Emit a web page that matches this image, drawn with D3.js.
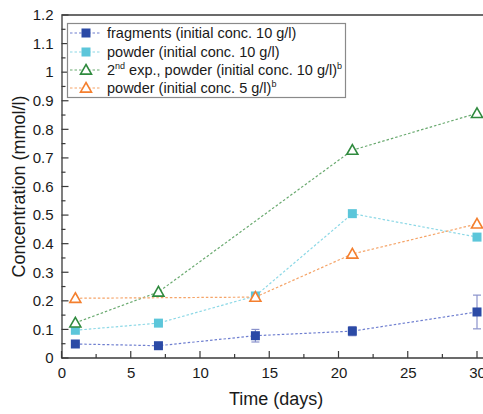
<!DOCTYPE html>
<html>
<head>
<meta charset="utf-8">
<script src="https://cdn.jsdelivr.net/npm/d3@7"></script>
<style>
  html, body { margin: 0; padding: 0; background: #fff; }
  svg { display: block; font-family: "Liberation Sans", Arial, sans-serif; }
</style>
</head>
<body>
<svg id="chart" width="483" height="414"></svg>
<script>
// Measurement days per series
const daysFragments = [1, 7, 14, 21, 30];
const daysPowder = [1, 7, 14, 21, 30];
const days2nd = [1, 7, 21, 30];
const daysPowder5 = [1, 14, 21, 30];

// Concentrations (mmol/l)
const fragments = [0.049, 0.043, 0.078, 0.094, 0.161];
const fragmentsErr = [0.004, 0.004, 0.022, 0.016, 0.059];
const powder = [0.097, 0.122, 0.217, 0.505, 0.423];
const powder2nd = [0.123, 0.231, 0.727, 0.856];
const powder5 = [0.209, 0.213, 0.364, 0.469];

// Axis ticks
const xTicks = [0, 5, 10, 15, 20, 25, 30];
const yTicks = [0, 0.1, 0.2, 0.3, 0.4, 0.5, 0.6, 0.7, 0.8, 0.9, 1, 1.1, 1.2];

const series = [
  { name: "fragments", days: daysFragments, values: fragments, err: fragmentsErr,
    marker: "square", fill: "#2b4aa6", line: "#6f7fd0" },
  { name: "powder", days: daysPowder, values: powder, err: null,
    marker: "square", fill: "#5cc6da", line: "#8cd8e6" },
  { name: "2nd", days: days2nd, values: powder2nd, err: null,
    marker: "triangle", fill: "#2f8a3e", line: "#6aaa70" },
  { name: "powder5", days: daysPowder5, values: powder5, err: null,
    marker: "triangle", fill: "#f47f2e", line: "#f5a468" }
];

const svg = d3.select("#chart");
const plotLeft = 61.5, plotRight = 477, plotTop = 15, plotBottom = 358;

const x = d3.scaleLinear().domain([0, 30]).range([plotLeft, plotRight]);
const y = d3.scaleLinear().domain([0, 1.2]).range([plotBottom, plotTop]);

const frameColor = "#3a3a3a";

// Frame: top edge continues past the right edge of the view
svg.append("line").attr("x1", plotLeft).attr("x2", 520).attr("y1", plotTop).attr("y2", plotTop)
  .attr("stroke", frameColor).attr("stroke-width", 1.3);

// Y axis
const yAxis = d3.axisLeft(y).tickValues(yTicks).tickSize(0).tickPadding(8)
  .tickFormat(d => d3.format("~g")(d));
const gy = svg.append("g").attr("transform", `translate(${plotLeft},0)`).call(yAxis);
gy.select(".domain").attr("stroke", frameColor).attr("stroke-width", 1.3);
gy.selectAll("text").attr("font-size", 15).attr("fill", "#1a1a1a");
// inward ticks: majors every 0.1, minors at 0.05
const yMinor = d3.range(0.05, 1.2, 0.1);
svg.append("g").selectAll("line").data(yTicks).join("line")
  .attr("x1", plotLeft).attr("x2", plotLeft + 7).attr("y1", d => y(d)).attr("y2", d => y(d))
  .attr("stroke", frameColor).attr("stroke-width", 1.2);
svg.append("g").selectAll("line").data(yMinor).join("line")
  .attr("x1", plotLeft).attr("x2", plotLeft + 4).attr("y1", d => y(d)).attr("y2", d => y(d))
  .attr("stroke", frameColor).attr("stroke-width", 1.2);

// X axis
const xAxis = d3.axisBottom(x).tickValues(xTicks).tickSize(0).tickPadding(9);
const gx = svg.append("g").attr("transform", `translate(0,${plotBottom})`).call(xAxis);
gx.select(".domain").remove();
svg.append("line").attr("x1", plotLeft).attr("x2", 520).attr("y1", plotBottom).attr("y2", plotBottom)
  .attr("stroke", frameColor).attr("stroke-width", 1.3);
gx.selectAll("text").attr("font-size", 15).attr("fill", "#1a1a1a");
const xMinor = d3.range(2.5, 30, 5);
svg.append("g").selectAll("line").data(xTicks).join("line")
  .attr("x1", d => x(d)).attr("x2", d => x(d)).attr("y1", plotBottom).attr("y2", plotBottom - 7)
  .attr("stroke", frameColor).attr("stroke-width", 1.2);
svg.append("g").selectAll("line").data(xMinor).join("line")
  .attr("x1", d => x(d)).attr("x2", d => x(d)).attr("y1", plotBottom).attr("y2", plotBottom - 4)
  .attr("stroke", frameColor).attr("stroke-width", 1.2);

// Axis titles (the frame runs on past day 30, so the x title sits right of x(15))
svg.append("text").attr("x", x(15.5)).attr("y", 405).attr("text-anchor", "middle")
  .attr("font-size", 18).attr("fill", "#1a1a1a").text("Time (days)");
svg.append("text").attr("transform", `translate(25,${(plotTop + plotBottom) / 2}) rotate(-90)`)
  .attr("text-anchor", "middle").attr("font-size", 18).attr("fill", "#1a1a1a")
  .text("Concentration (mmol/l)");

// Marker drawing helper
function drawMarker(g, type, cx, cy, s) {
  if (type === "square") {
    g.append("rect").attr("x", cx - 4.5).attr("y", cy - 4.5).attr("width", 9).attr("height", 9)
      .attr("fill", s.fill);
  } else {
    const h = 5.5;
    g.append("path")
      .attr("d", `M${cx},${cy - h} L${cx + h},${cy + h * 0.75} L${cx - h},${cy + h * 0.75} Z`)
      .attr("fill", "#fff").attr("stroke", s.fill).attr("stroke-width", 1.6);
  }
}

const line = d3.line();

// Connecting lines
series.forEach(s => {
  const pts = s.days.map((d, i) => [x(d), y(s.values[i])]);
  svg.append("path").attr("d", line(pts)).attr("fill", "none")
    .attr("stroke", s.line).attr("stroke-width", 1.2).attr("stroke-dasharray", "2.5,2");
});

// Error bars
series.filter(s => s.err).forEach(s => {
  const g = svg.append("g").attr("stroke", "#8a92cc").attr("stroke-width", 1.2);
  s.days.forEach((d, i) => {
    const cx = x(d), e = s.err[i], v = s.values[i];
    g.append("line").attr("x1", cx).attr("x2", cx).attr("y1", y(v - e)).attr("y2", y(v + e));
    [v - e, v + e].forEach(t => g.append("line")
      .attr("x1", cx - 4).attr("x2", cx + 4).attr("y1", y(t)).attr("y2", y(t)));
  });
});

// Markers
series.forEach(s => {
  const g = svg.append("g");
  s.days.forEach((d, i) => drawMarker(g, s.marker, x(d), y(s.values[i]), s));
});

// Legend
const legend = svg.append("g");
legend.append("rect").attr("x", 67.5).attr("y", 23.5).attr("width", 278).attr("height", 74)
  .attr("fill", "#fff").attr("stroke", "#8a8a8a").attr("stroke-width", 1.2);
const rowY = [33, 52, 70, 88];
const legendLabels = [
  [["fragments (initial conc. 10 g/l)", false]],
  [["powder (initial conc. 10 g/l)", false]],
  [["2", false], ["nd", true], [" exp., powder (initial conc. 10 g/l)", false], ["b", true]],
  [["powder (initial conc. 5 g/l)", false], ["b", true]]
];
series.forEach((s, i) => {
  const yy = rowY[i];
  legend.append("line").attr("x1", 70).attr("x2", 101).attr("y1", yy).attr("y2", yy)
    .attr("stroke", s.line).attr("stroke-width", 1.2).attr("stroke-dasharray", "2.5,2");
  drawMarker(legend, s.marker, 86, yy, s);
  const t = legend.append("text").attr("x", 107).attr("y", yy + 5)
    .attr("font-size", 14.5).attr("fill", "#1a1a1a");
  legendLabels[i].forEach(([txt, sup]) => {
    const ts = t.append("tspan").text(txt);
    if (sup) ts.attr("font-size", 9).attr("dy", -6);
    else if (t.selectAll("tspan").size() > 1) ts.attr("dy", 6);
  });
});
</script>
</body>
</html>
